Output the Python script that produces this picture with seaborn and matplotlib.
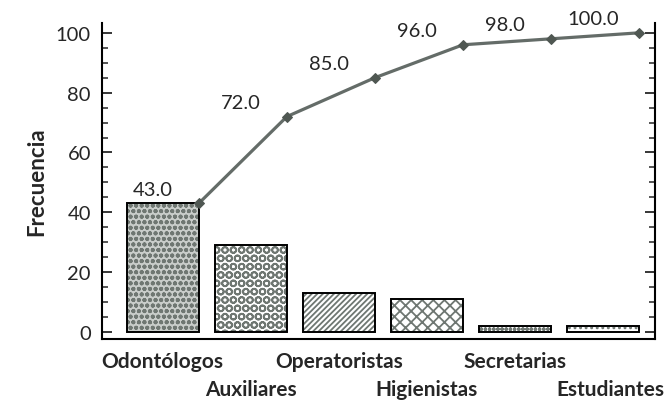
import numpy as np
import pandas as pd
import matplotlib
matplotlib.use("Agg")
import matplotlib.pyplot as plt
import seaborn as sns
from matplotlib.ticker import MultipleLocator

# datos
categorias = ["Odontólogos", "Auxiliares", "Operatoristas", "Higienistas", "Secretarias", "Estudiantes"]
frecuencia = [43, 29, 13, 11, 2, 2]
acumulado = [43.0, 72.0, 85.0, 96.0, 98.0, 100.0]
tramas = ["ooo", "OO", "//////", "xxx", "oooo", "..."]
fondos = ["#c9cdca", "white", "white", "white", "white", "white"]

sns.set_style("white")
plt.rcParams['font.family'] = ['Lato', 'DejaVu Sans']
plt.rcParams['hatch.linewidth'] = 1.3

df = pd.DataFrame({"cat": categorias, "frec": frecuencia})

fig, ax = plt.subplots(figsize=(6.71, 4.06), dpi=100)
fig.subplots_adjust(left=0.152, right=0.976, bottom=0.163, top=0.941)

# barras con trama gris y luego contorno negro encima
sns.barplot(data=df, x="cat", y="frec", color="white", width=0.82,
            edgecolor="#6f7772", linewidth=0, ax=ax)
for p, h, f in zip(ax.patches, tramas, fondos):
    p.set_hatch(h)
    p.set_facecolor(f)
sns.barplot(data=df, x="cat", y="frec", fill=False, width=0.82,
            edgecolor="black", linewidth=1.4, ax=ax)

# linea acumulada en el borde derecho de cada barra
xs = np.arange(len(categorias)) + 0.41
sns.lineplot(x=xs, y=acumulado, ax=ax, color="#646c68", linewidth=2.3,
             marker="D", markersize=5, markeredgecolor="#4f5752",
             markerfacecolor="#4f5752")
for i, v in enumerate(acumulado):
    ax.annotate(f"{v:.1f}", (i - 0.11, v), xytext=(0, 4), textcoords="offset points",
                ha="center", va="bottom", fontsize=14.5)

ax.set_xlim(-0.69, 5.59)
ax.set_ylim(-2.3, 103.3)
ax.yaxis.set_major_locator(MultipleLocator(20))
ax.yaxis.set_minor_locator(MultipleLocator(5))
ax.tick_params(axis="y", which="both", direction="in", left=True, right=True,
               labelsize=14.5, pad=8)
ax.tick_params(axis="y", which="major", length=7, width=1.3)
ax.tick_params(axis="y", which="minor", length=4, width=1.1)

# etiquetas de categoria escalonadas en dos filas
ax.set_xticks([])
trans = ax.get_xaxis_transform()
for i, c in enumerate(categorias):
    yy = -0.070 if i % 2 == 0 else -0.158
    xx = i + 0.09 if i == len(categorias) - 1 else i
    ax.text(xx, yy, c, transform=trans, ha="center", va="center",
            fontsize=15, fontweight="bold", clip_on=False)

ax.set_xlabel("")
ax.set_ylabel("Frecuencia", fontsize=16, fontweight="bold", labelpad=6)

for s in ["left", "right", "bottom"]:
    ax.spines[s].set_visible(True)
    ax.spines[s].set_color("black")
    ax.spines[s].set_linewidth(1.5)
ax.spines["top"].set_visible(False)

fig.savefig("out.png", dpi=100)
